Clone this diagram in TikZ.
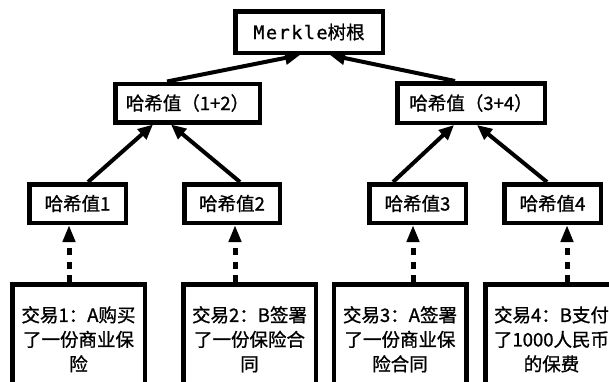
\documentclass[tikz,border=0pt]{standalone}
\usepackage{fontspec}
\setmainfont{Noto Sans CJK SC}[FakeBold=1]
\newfontfamily\monofont{DejaVu Sans Mono}[FakeBold=1,LetterSpace=8]
\usetikzlibrary{arrows.meta,calc}
\begin{document}
\begin{tikzpicture}[x=1pt,y=-1pt,
  box/.style={draw,line width=4.5pt,rectangle,inner sep=0pt,font=\fontsize{18.5}{24.5}\selectfont},
  arr/.style={line width=4pt,-{Triangle[length=15pt,width=13pt]}},
  darr/.style={line width=5pt,dash pattern=on 7pt off 6.5pt,-{Triangle[length=17pt,width=12pt]}},
  txt/.style={align=center,inner sep=0pt,anchor=north,font=\fontsize{18.5}{24.5}\selectfont}]
\useasboundingbox (0,0) rectangle (609,381);
\fill[white] (0,0) rectangle (609,381);
\clip (0,0) rectangle (609,381);

\node[box,minimum width=147.5pt,minimum height=41.5pt] (root) at (309,32) {{\monofont Merkle}树根};
\node[box,minimum width=144.5pt,minimum height=38.5pt] (h12) at (187.5,103) {哈希值（1+2）};
\node[box,minimum width=147.5pt,minimum height=39.5pt] (h34) at (471,103) {哈希值（3+4）};
\node[box,minimum width=96.5pt,minimum height=38.5pt] (h1) at (77.5,203.5) {哈希值1};
\node[box,minimum width=95.5pt,minimum height=38.5pt] (h2) at (232,203.5) {哈希值2};
\node[box,minimum width=96.5pt,minimum height=38.5pt] (h3) at (417.5,203.5) {哈希值3};
\node[box,minimum width=96.5pt,minimum height=38.5pt] (h4) at (552.5,203.5) {哈希值4};

\node[box,minimum width=132.5pt,minimum height=113.5pt] (T1) at (78.5,341) {};
\node[box,minimum width=132.5pt,minimum height=113.5pt] (T2) at (249.5,341) {};
\node[box,minimum width=132.5pt,minimum height=113.5pt] (T3) at (400,341) {};
\node[box,minimum width=132.5pt,minimum height=113.5pt] (T4) at (551.5,341) {};

\node[txt] (t1) at ($(T1.north)+(0,24)$) {交易1：A购买\\了一份商业保\\险};
\node[txt] (t2) at ($(T2.north)+(0,24)$) {交易2：B签署\\了一份保险合\\同};
\node[txt] (t3) at ($(T3.north)+(0,24)$) {交易3：A签署\\了一份商业保\\险合同};
\node[txt] (t4) at ($(T4.north)+(0,24)$) {交易4：B支付\\了1000人民币\\的保费};

\draw[arr] ($(h12.north)+(-20.5,0)$) -- ($(root.south)+(-9,0)$);
\draw[arr] ($(h34.north)+(-16,0)$) -- ($(root.south)+(21,0)$);
\draw[arr] ($(h1.north)+(10.5,0)$) -- ($(h12.south)+(-34.5,0)$);
\draw[arr] ($(h2.north)+(8,0)$) -- ($(h12.south)+(-16.5,0)$);
\draw[arr] ($(h3.north)+(-24.5,0)$) -- ($(h34.south)+(-17,0)$);
\draw[arr] ($(h4.north)+(-5.5,0)$) -- ($(h34.south)+(6,0)$);

\draw[darr] ($(T1.north)+(-9.5,0)$) -- ($(h1.south)+(-8.5,0)$);
\draw[darr] ($(T2.north)+(-14.5,0)$) -- ($(h2.south)+(3,0)$);
\draw[darr] ($(T3.north)+(13,0)$) -- ($(h3.south)+(-4.5,0)$);
\draw[darr] ($(T4.north)+(15.5,0)$) -- ($(h4.south)+(14.5,0)$);
\end{tikzpicture}
\end{document}
